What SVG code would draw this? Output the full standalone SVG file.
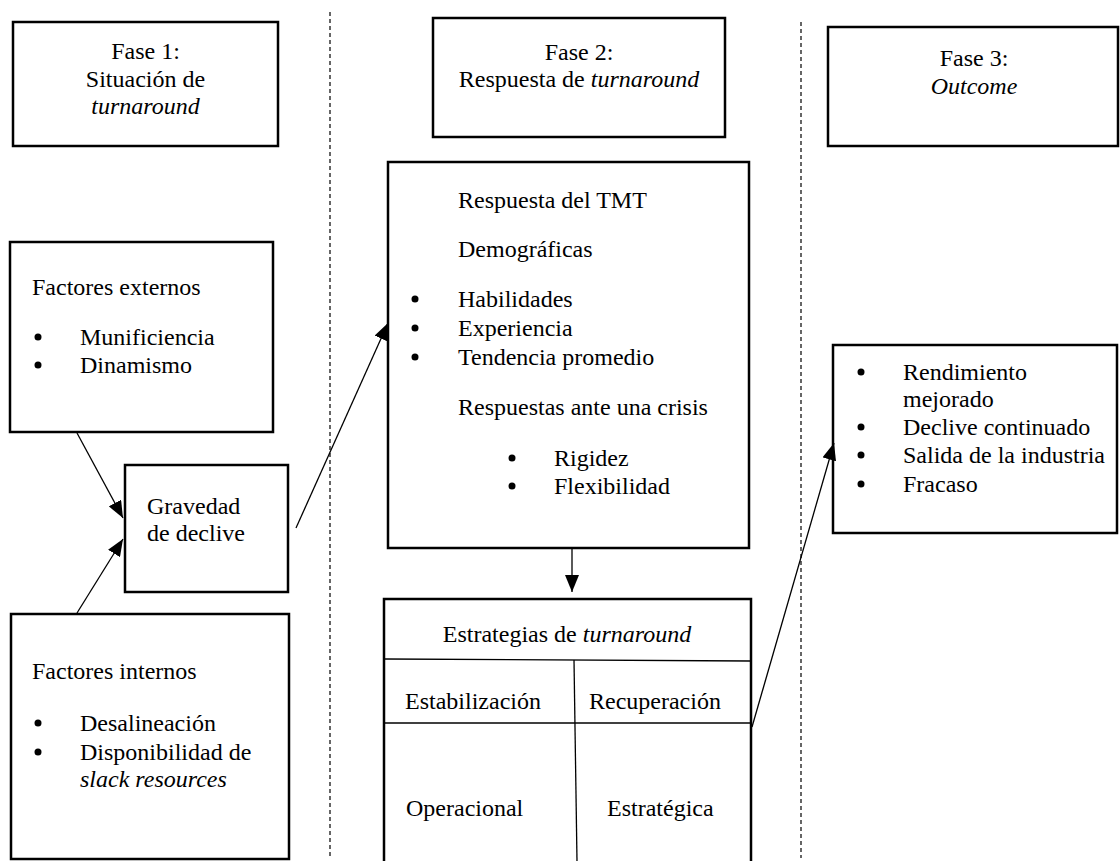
<svg xmlns="http://www.w3.org/2000/svg" width="1120" height="861" viewBox="0 0 1120 861">
  <style>
    text { font-family: 'Liberation Serif', 'Times New Roman', serif; font-size: 24px; fill: #000; }
    .c { text-anchor: middle; }
    .i { font-style: italic; }
    .box { fill: #fff; stroke: #000; stroke-width: 2.5; }
    .rule { stroke: #000; stroke-width: 1.3; fill: none; }
    .conn { stroke: #000; stroke-width: 1.3; fill: none; marker-end: url(#arrow); }
    .phase { stroke: #000; stroke-width: 1.2; stroke-dasharray: 4 3; fill: none; }
    .dot { fill: #000; }
  </style>
  <defs>
    <marker id="arrow" markerUnits="userSpaceOnUse" markerWidth="18" markerHeight="14" refX="17" refY="7" orient="auto">
      <path d="M0,0 L17,7 L0,14 Z" fill="#000"/>
    </marker>
  </defs>

  <rect width="1120" height="861" fill="#fff"/>

  <!-- phase separators -->
  <g id="separators">
    <line class="phase" x1="330" y1="12" x2="330" y2="858"/>
    <line class="phase" x1="801" y1="22" x2="801" y2="858"/>
  </g>

  <!-- phase headers -->
  <g id="fase1">
    <rect class="box" x="13" y="22" width="265" height="124"/>
    <text class="c" x="145.5" y="59">Fase 1:</text>
    <text class="c" x="145.5" y="87">Situación de</text>
    <text class="c i" x="145.5" y="114">turnaround</text>
  </g>
  <g id="fase2">
    <rect class="box" x="433" y="18" width="292" height="119"/>
    <text class="c" x="579" y="60">Fase 2:</text>
    <text class="c" x="579" y="87">Respuesta de <tspan class="i">turnaround</tspan></text>
  </g>
  <g id="fase3">
    <rect class="box" x="828" y="27" width="290" height="119"/>
    <text class="c" x="974" y="66">Fase 3:</text>
    <text class="c i" x="974" y="94">Outcome</text>
  </g>

  <!-- phase 1 nodes -->
  <g id="factores-externos">
    <rect class="box" x="10" y="242" width="263" height="190"/>
    <text x="32" y="295">Factores externos</text>
    <circle class="dot" cx="38" cy="337" r="3.5"/>
    <text x="80" y="345">Munificiencia</text>
    <circle class="dot" cx="38" cy="365" r="3.5"/>
    <text x="80" y="373">Dinamismo</text>
  </g>
  <g id="gravedad">
    <rect class="box" x="125" y="465" width="163" height="127"/>
    <text x="147" y="514">Gravedad</text>
    <text x="147" y="541">de declive</text>
  </g>
  <g id="factores-internos">
    <rect class="box" x="11" y="614" width="278" height="245"/>
    <text x="32" y="679">Factores internos</text>
    <circle class="dot" cx="38" cy="723" r="3.5"/>
    <text x="80" y="731">Desalineación</text>
    <circle class="dot" cx="38" cy="752" r="3.5"/>
    <text x="80" y="760">Disponibilidad de</text>
    <text class="i" x="80" y="787">slack resources</text>
  </g>

  <!-- phase 2 nodes -->
  <g id="respuesta-tmt">
    <rect class="box" x="388" y="162" width="361" height="386"/>
    <text x="458" y="208">Respuesta del TMT</text>
    <text x="458" y="257">Demográficas</text>
    <circle class="dot" cx="415" cy="299" r="3.5"/>
    <text x="458" y="307">Habilidades</text>
    <circle class="dot" cx="415" cy="328" r="3.5"/>
    <text x="458" y="336">Experiencia</text>
    <circle class="dot" cx="415" cy="357" r="3.5"/>
    <text x="458" y="365">Tendencia promedio</text>
    <text x="458" y="415">Respuestas ante una crisis</text>
    <circle class="dot" cx="512" cy="458" r="3.5"/>
    <text x="554" y="466">Rigidez</text>
    <circle class="dot" cx="512" cy="486" r="3.5"/>
    <text x="554" y="494">Flexibilidad</text>
  </g>
  <g id="estrategias">
    <rect class="box" x="384" y="599" width="367" height="280"/>
    <line class="rule" x1="385" y1="659" x2="750" y2="661"/>
    <line class="rule" x1="385" y1="723" x2="750" y2="723"/>
    <line class="rule" x1="574" y1="660" x2="577" y2="861"/>
    <text class="c" x="567" y="642">Estrategias de <tspan class="i">turnaround</tspan></text>
    <text x="405" y="709">Estabilización</text>
    <text x="589" y="709">Recuperación</text>
    <text x="406" y="816">Operacional</text>
    <text x="607" y="816">Estratégica</text>
  </g>

  <!-- phase 3 node -->
  <g id="outcome">
    <rect class="box" x="833" y="345" width="284" height="188"/>
    <circle class="dot" cx="861" cy="372" r="3.5"/>
    <text x="903" y="380">Rendimiento</text>
    <text x="903" y="407">mejorado</text>
    <circle class="dot" cx="861" cy="427" r="3.5"/>
    <text x="903" y="435">Declive continuado</text>
    <circle class="dot" cx="861" cy="455" r="3.5"/>
    <text x="903" y="463">Salida de la industria</text>
    <circle class="dot" cx="861" cy="484" r="3.5"/>
    <text x="903" y="492">Fracaso</text>
  </g>

  <!-- connectors -->
  <g id="connectors">
    <line class="conn" x1="77" y1="433" x2="123" y2="518"/>
    <line class="conn" x1="77" y1="613" x2="123" y2="539"/>
    <line class="conn" x1="296" y1="528" x2="388" y2="323"/>
    <line class="conn" x1="572" y1="549" x2="572" y2="592"/>
    <line class="conn" x1="752" y1="727" x2="834" y2="443"/>
  </g>
</svg>
